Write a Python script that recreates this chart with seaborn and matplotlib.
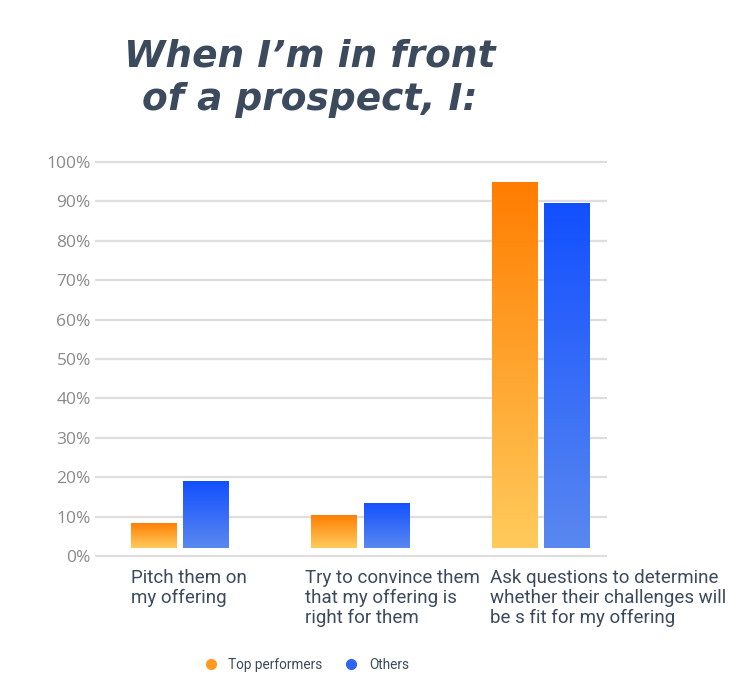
import numpy as np
import pandas as pd
import seaborn as sns
import matplotlib.pyplot as plt
from matplotlib.colors import LinearSegmentedColormap
from matplotlib.lines import Line2D

# 数据
categories = ["Pitch them on\nmy offering",
              "Try to convince them\nthat my offering is\nright for them",
              "Ask questions to determine\nwhether their challenges will\nbe s fit for my offering"]
series = ["Top performers", "Others"]
top_performers = [8.5, 10.5, 95]
others = [19, 13.5, 89.5]
y_ticks = [0, 10, 20, 30, 40, 50, 60, 70, 80, 90, 100]
y_tick_labels = [f"{t}%" for t in y_ticks]

df = pd.DataFrame({
    "category": categories * 2,
    "group": [series[0]] * 3 + [series[1]] * 3,
    "value": top_performers + others,
})

sns.set_theme(style="white")
plt.rcParams["font.family"] = ["Roboto", "DejaVu Sans"]

text_color = "#3b4a5c"
grads = {
    "Top performers": ("#FFCB5C", "#FF7D00"),   # 下 -> 上
    "Others": ("#5A88F0", "#1250FF"),
}
base = 2  # 柱子底部略高于0线
label_shift = [-0.27, -0.305, -0.28]  # 类别标签左对齐的偏移

fig = plt.figure(figsize=(7.5, 7), dpi=100)
ax = fig.add_axes([95 / 750, 140 / 700, 512 / 750, 402 / 700])

sns.barplot(data=df, x="category", y="value", hue="group", hue_order=series,
            palette=["#FF9A1F", "#2F64F5"], width=0.578, gap=0.135,
            legend=False, ax=ax, zorder=3)

# 渐变填充
for cont, name in zip(ax.containers, series):
    cmap = LinearSegmentedColormap.from_list(name, list(grads[name]))
    for bar in cont:
        x0, w, h = bar.get_x(), bar.get_width(), bar.get_height()
        bar.set_y(base)
        bar.set_height(h - base)
        bar.set_facecolor("none")
        bar.set_edgecolor("none")
        grad = np.linspace(0, 1, 256).reshape(-1, 1)
        im = ax.imshow(grad, cmap=cmap, origin="lower", aspect="auto",
                       extent=[x0, x0 + w, base, h], zorder=3)
        im.set_clip_path(bar)

ax.set_xlim(-0.47, 2.37)
ax.set_ylim(-1, 101)

# 网格与坐标轴
for t in y_ticks:
    ax.axhline(t, color="#dedede", lw=1.6, zorder=1)
sns.despine(ax=ax, left=True, bottom=True)
ax.set_yticks(y_ticks)
ax.set_yticklabels(y_tick_labels, fontsize=12.5, color="#8a8a8a",
                   fontweight="medium", family=["Open Sans", "DejaVu Sans"])
ax.tick_params(axis="y", length=0, pad=3)
ax.set_xticks([i + s for i, s in enumerate(label_shift)])
ax.set_xticklabels(categories, fontsize=13.5, color=text_color, ha="left",
                   va="top", linespacing=1.15)
ax.tick_params(axis="x", length=0, pad=6.5)
ax.set_xlabel("")
ax.set_ylabel("")

# 标题
fig.text(310 / 750, 1 - 78 / 700, "When I\u2019m in front\nof a prospect, I:",
         ha="center", va="center", fontsize=27, color=text_color,
         fontweight="bold", fontstyle="italic", linespacing=1.25,
         family=["DejaVu Sans"])

# 图例
handles = [Line2D([], [], marker="o", ls="", ms=7, color=c)
           for c in ["#FF9A1F", "#2F64F5"]]
fig.legend(handles, series, loc="center", bbox_to_anchor=(303 / 750, 1 - 665 / 700),
           ncol=2, frameon=False, fontsize=9.8, labelcolor=text_color,
           handletextpad=0.3, columnspacing=1.1)

plt.savefig("out.png", dpi=100)
